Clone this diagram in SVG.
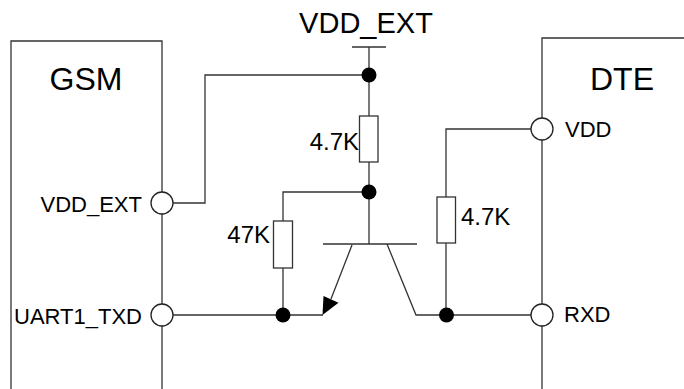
<svg xmlns="http://www.w3.org/2000/svg" width="684" height="389" viewBox="0 0 684 389">
<style>
.w{fill:none;stroke:#333;stroke-width:1.3}
.box{fill:none;stroke:#333;stroke-width:1.3}
.pin{fill:#fff;stroke:#222;stroke-width:1.3}
.dot{fill:#000}
.res{fill:#fff;stroke:#333;stroke-width:1.3}
text{font-family:"Liberation Sans",Arial,sans-serif;fill:#000}
.big{font-size:32px}
.mid{font-size:29px}
.lbl{font-size:24px}
.sm{font-size:22px}
</style>
<rect width="684" height="389" fill="#fff"/>
<g id="connectors">
<path class="w" d="M352,47H386M369,47V75M173,203H205V75H369M369,75V116M369,162V192M369,192H283V221M283,268V315M369,192V244M323,244H417M352,245L331,299M387,244L416,315H531M446,315V243M446,197V129H531M173,315H323"/>
<polygon points="322.5,315 323.5,296 338.5,302.7" fill="#000"/>
</g>
<g id="gsm">
<path class="box" d="M11,389V41H162V389"/>
<text class="big" x="86" y="90" text-anchor="middle">GSM</text>
</g>
<g id="dte">
<path class="box" d="M542,389V38H684"/>
<text class="big" x="622" y="90" text-anchor="middle">DTE</text>
</g>
<g id="vdd_ext_supply">
<text class="mid" x="366" y="33" text-anchor="middle">VDD_EXT</text>
</g>
<g id="pin_vdd_ext">
<circle class="pin" cx="162" cy="203" r="11"/>
<text class="sm" x="142" y="212" text-anchor="end">VDD_EXT</text>
</g>
<g id="pin_uart1_txd">
<circle class="pin" cx="162" cy="315" r="11"/>
<text class="sm" x="142" y="324" text-anchor="end">UART1_TXD</text>
</g>
<g id="pin_vdd">
<circle class="pin" cx="542" cy="129" r="11"/>
<text class="sm" x="565" y="137">VDD</text>
</g>
<g id="pin_rxd">
<circle class="pin" cx="542" cy="315" r="11"/>
<text class="sm" x="564" y="322">RXD</text>
</g>
<g id="r1">
<rect class="res" x="359.5" y="116" width="18.5" height="46"/>
<text class="lbl" x="359" y="150" text-anchor="end">4.7K</text>
</g>
<g id="r2">
<rect class="res" x="273.5" y="221" width="19" height="47"/>
<text class="lbl" x="270" y="243" text-anchor="end">47K</text>
</g>
<g id="r3">
<rect class="res" x="437" y="197" width="18.5" height="46"/>
<text class="lbl" x="461" y="225">4.7K</text>
</g>
<g id="nodes">
<circle class="dot" cx="369" cy="75" r="7.5"/>
<circle class="dot" cx="369" cy="192" r="7.5"/>
<circle class="dot" cx="283" cy="315" r="7.5"/>
<circle class="dot" cx="446.5" cy="315" r="7.5"/>
</g>
</svg>
